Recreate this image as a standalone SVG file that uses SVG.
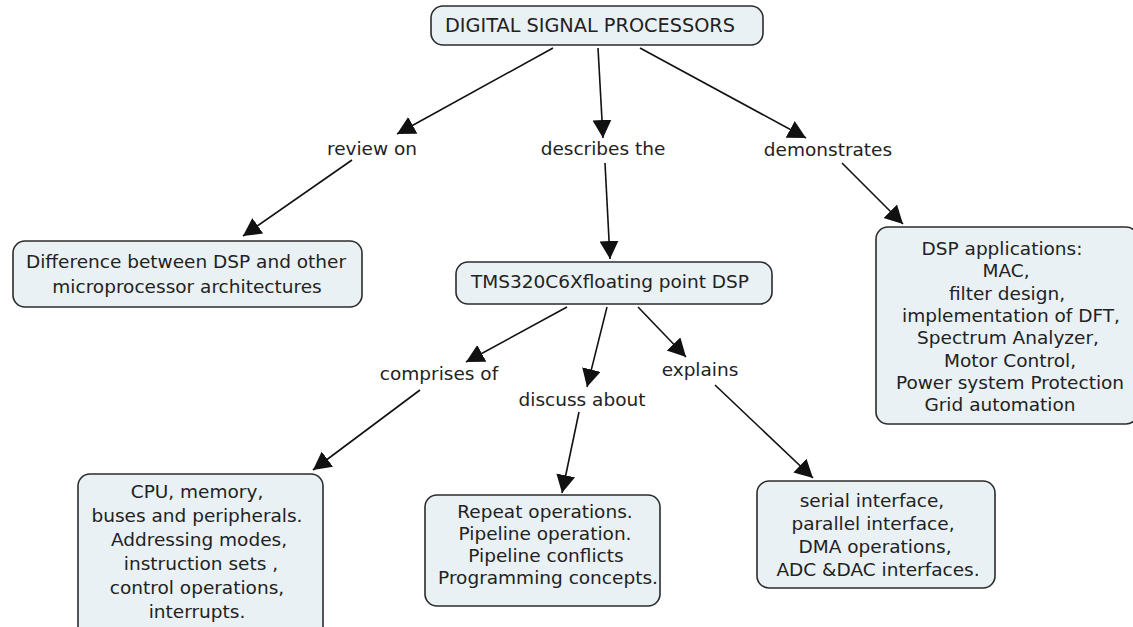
<svg xmlns="http://www.w3.org/2000/svg" width="1133" height="627" viewBox="0 0 1133 627">
<style>
.box{fill:#e9f1f4;stroke:#2b2b2b;stroke-width:1.6}
.t{font-family:"DejaVu Sans",Verdana,sans-serif;font-size:18.5px;fill:#222;text-anchor:middle}
.c{stroke:#111;stroke-width:1.6;fill:none;marker-end:url(#ah)}
</style>
<defs>
<marker id="ah" markerUnits="userSpaceOnUse" markerWidth="20" markerHeight="20" refX="18" refY="9.5" orient="auto">
<path d="M0,0 L18,9.5 L0,19 z" fill="#111"/>
</marker>
</defs>
<rect width="1133" height="627" fill="#fff"/>
<g id="connectors">
<line class="c" x1="553" y1="48" x2="397" y2="134"/>
<line class="c" x1="352" y1="160" x2="243" y2="236"/>
<line class="c" x1="598" y1="48" x2="603" y2="138"/>
<line class="c" x1="605" y1="163" x2="610" y2="259"/>
<line class="c" x1="640" y1="48" x2="806" y2="138"/>
<line class="c" x1="842" y1="163" x2="903" y2="224"/>
<line class="c" x1="567" y1="307" x2="466" y2="362"/>
<line class="c" x1="420" y1="390" x2="313" y2="470"/>
<line class="c" x1="607" y1="307" x2="587" y2="387"/>
<line class="c" x1="579" y1="412" x2="562" y2="493"/>
<line class="c" x1="638" y1="307" x2="686" y2="357"/>
<line class="c" x1="715" y1="385" x2="813" y2="478"/>
</g>
<g id="n-title">
<rect class="box" x="431" y="6" width="332" height="39" rx="12"/>
<text class="t" x="590" y="32" style="font-size:19.3px">DIGITAL SIGNAL PROCESSORS</text>
</g>
<g id="l-review"><text class="t" x="372" y="155">review on</text></g>
<g id="l-describes"><text class="t" x="603" y="155">describes the</text></g>
<g id="l-demonstrates"><text class="t" x="828" y="156">demonstrates</text></g>
<g id="n-difference">
<rect class="box" x="13" y="241" width="349" height="66" rx="12"/>
<text class="t" x="186" y="268">Difference between DSP and other</text>
<text class="t" x="187" y="293">microprocessor architectures</text>
</g>
<g id="n-tms">
<rect class="box" x="456" y="262" width="316" height="42" rx="12"/>
<text class="t" x="610" y="288">TMS320C6Xfloating point DSP</text>
</g>
<g id="n-apps">
<rect class="box" x="876" y="227" width="262" height="197" rx="12"/>
<text class="t" x="1002" y="255">DSP applications:</text>
<text class="t" x="1006" y="277">MAC,</text>
<text class="t" x="1007" y="300">filter design,</text>
<text class="t" x="1011" y="322">implementation of DFT,</text>
<text class="t" x="1008" y="344">Spectrum Analyzer,</text>
<text class="t" x="1010" y="367">Motor Control,</text>
<text class="t" x="1010" y="389">Power system Protection</text>
<text class="t" x="1000" y="411">Grid automation</text>
</g>
<g id="l-comprises"><text class="t" x="439" y="380">comprises of</text></g>
<g id="l-discuss"><text class="t" x="582" y="406">discuss about</text></g>
<g id="l-explains"><text class="t" x="700" y="376">explains</text></g>
<g id="n-cpu">
<rect class="box" x="78" y="474" width="245" height="165" rx="12"/>
<text class="t" x="197" y="498">CPU, memory,</text>
<text class="t" x="197" y="522">buses and peripherals.</text>
<text class="t" x="199" y="546">Addressing modes,</text>
<text class="t" x="201" y="570">instruction sets ,</text>
<text class="t" x="197" y="594">control operations,</text>
<text class="t" x="197" y="618">interrupts.</text>
</g>
<g id="n-repeat">
<rect class="box" x="425" y="495" width="235" height="111" rx="12"/>
<text class="t" x="545" y="518">Repeat operations.</text>
<text class="t" x="545" y="540">Pipeline operation.</text>
<text class="t" x="546" y="562">Pipeline conflicts</text>
<text class="t" x="548" y="584">Programming concepts.</text>
</g>
<g id="n-serial">
<rect class="box" x="757" y="481" width="238" height="107" rx="12"/>
<text class="t" x="872" y="507">serial interface,</text>
<text class="t" x="873" y="530">parallel interface,</text>
<text class="t" x="875" y="553">DMA operations,</text>
<text class="t" x="878" y="576">ADC &amp;DAC interfaces.</text>
</g>
</svg>
